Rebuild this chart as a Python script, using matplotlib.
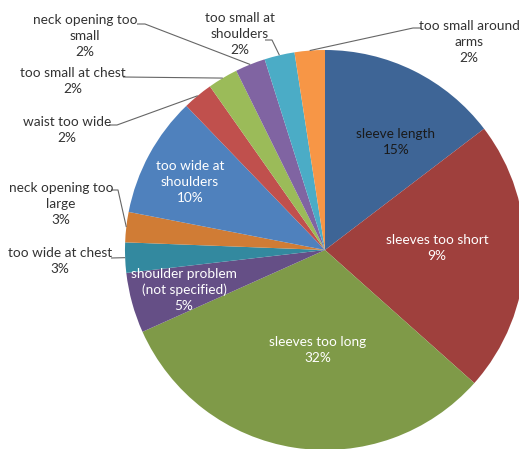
import numpy as np
import matplotlib
matplotlib.use("Agg")
import matplotlib.pyplot as plt

# Reasons for returns (number of items), clockwise from 12 o'clock
categories = [
    "sleeve length", "sleeves too short", "sleeves too long",
    "shoulder problem\n(not specified)", "too wide at chest",
    "neck opening too\nlarge", "too wide at\nshoulders", "waist too wide",
    "too small at chest", "neck opening too\nsmall", "too small at\nshoulders",
    "too small around\narms",
]
counts = [6, 9, 13, 2, 1, 1, 4, 1, 1, 1, 1, 1]
pct_labels = ["15%", "9%", "32%", "5%", "3%", "3%", "10%", "2%", "2%", "2%", "2%", "2%"]

colors = ["#3E6596", "#9F403D", "#7F9A48", "#654F86", "#33899F", "#D07C35",
          "#4F81BD", "#C0504D", "#9BBB59", "#8064A2", "#4BACC6", "#F79646"]

W, H = 519, 449
fig = plt.figure(figsize=(W / 100, H / 100), dpi=100)
ax = fig.add_axes([0, 0, 1, 1])


def Y(y):
    return H - y


cx, cy, R = 325, Y(250), 200
wedges, _ = ax.pie(counts, colors=colors, startangle=90, counterclock=False,
                   center=(cx, cy), radius=R, frame=True,
                   wedgeprops=dict(linewidth=0, edgecolor="none"))
ax.set_xlim(0, W)
ax.set_ylim(0, H)
ax.set_aspect("equal")
ax.axis("off")

font = dict(family=["Lato", "DejaVu Sans"], fontsize=9.8, linespacing=1.38)

# labels placed inside their slices: (index, x, y, colour)
inside = [
    (0, 396, 142, "#1a1a1a"),
    (1, 437, 248, "white"),
    (2, 318, 350, "white"),
    (3, 184, 290, "white"),
    (6, 190, 182, "white"),
]
for i, x, y, c in inside:
    ax.text(x, Y(y), categories[i] + "\n" + pct_labels[i], ha="center",
            va="center", color=c, **font)

# labels outside with leader lines: (index, text x, text y, leader path)
outside = [
    (11, 469, 42, [(421, 28), (413, 28)]),
    (10, 240, 34, [(265, 40), (272, 40)]),
    (9, 85, 36, [(137, 24), (145, 24)]),
    (8, 73, 81, [(123, 77)]),
    (7, 67, 130, [(109, 125), (117, 125)]),
    (5, 61, 204, [(111, 190), (118, 190)]),
    (4, 60, 261, [(111, 258)]),
]
cum = np.cumsum([0] + counts) / sum(counts)
for i, x, y, path in outside:
    ax.text(x, Y(y), categories[i] + "\n" + pct_labels[i], ha="center",
            va="center", color="#333333", **font)
    mid = 0.5 * (cum[i] + cum[i + 1])
    theta = np.pi / 2 - 2 * np.pi * mid
    ex, ey = cx + R * np.cos(theta), cy + R * np.sin(theta)
    xs = [p[0] for p in path] + [ex]
    ys = [Y(p[1]) for p in path] + [ey]
    ax.plot(xs, ys, color="#666666", lw=0.8, solid_capstyle="butt")

fig.savefig("out.png", dpi=100)
